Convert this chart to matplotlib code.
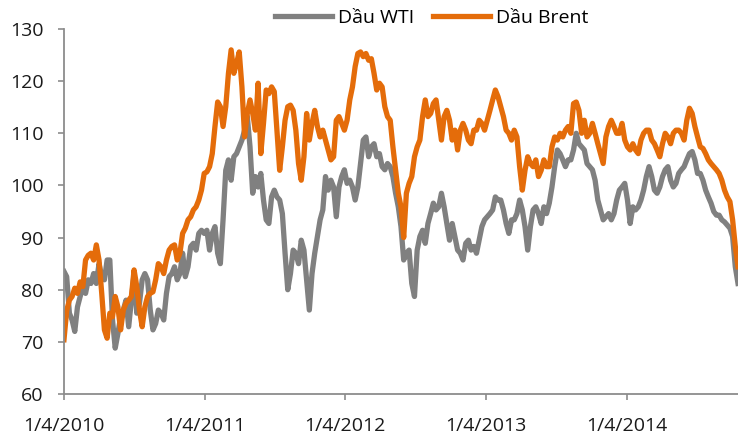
import matplotlib
matplotlib.use("Agg")
import matplotlib.pyplot as plt
import pandas as pd

# weekly readings, starting 4 Jan 2010
start_date = "2010-01-04"

wti = [
    83.5, 82.5, 75.5, 74.2, 72.0, 76.7, 78.7, 80.6, 79.3, 81.9, 81.2, 83.1, 81.2, 85.0,
    82.5, 81.9, 85.7, 85.7, 74.2, 68.8, 71.6, 74.8, 76.1, 78.0, 72.9, 78.0, 83.1, 75.5,
    77.4, 81.9, 83.1, 81.9, 76.1, 72.3, 73.5, 76.1, 75.5, 74.2, 79.3, 82.5, 83.1, 84.4,
    81.9, 83.1, 87.0, 82.5, 84.4, 88.3, 88.9, 87.6, 90.8, 91.4,
    90.8, 91.4, 87.6, 90.8, 92.1, 87.0, 85.0, 93.4, 102.9, 104.9, 101.0, 105.5, 106.1,
    107.4, 108.7, 110.6, 113.2, 107.4, 98.5, 101.7, 99.7, 102.3, 97.2, 93.4, 92.7, 97.8,
    99.1, 97.8, 97.2, 94.6, 87.0, 80.0, 83.1, 87.6, 87.0, 85.0, 89.5, 87.6, 81.9, 76.1,
    83.1, 87.0, 90.2, 93.4, 95.3, 101.7, 99.1, 101.0, 99.7, 94.0, 99.7, 101.7,
    103.0, 100.4, 101.0, 99.7, 97.2, 99.7, 104.2, 108.7, 109.3, 105.5, 107.4, 108.0,
    105.5, 106.1, 103.6, 103.0, 104.2, 103.6, 101.7, 98.5, 95.9, 92.1, 85.7, 87.0, 87.6,
    81.2, 78.7, 87.6, 90.2, 91.4, 88.9, 92.7, 94.6, 96.6, 95.3, 95.9, 98.5, 95.9, 92.7,
    89.5, 92.7, 90.2, 87.6, 87.0, 85.7, 88.9, 89.5, 87.6, 88.3, 87.0, 89.5, 92.1,
    93.4, 94.0, 94.6, 95.3, 97.8, 97.2, 97.2, 95.3, 92.7, 90.8, 93.4, 93.4, 94.6, 97.2,
    95.3, 92.1, 87.6, 92.1, 95.3, 95.9, 94.6, 92.7, 95.9, 94.6, 96.6, 99.7, 103.6, 106.8,
    106.1, 104.9, 103.6, 104.9, 104.9, 106.8, 110.0, 108.0, 107.4, 106.8, 104.2, 103.6,
    103.0, 101.0, 97.2, 95.3, 93.4, 94.0, 94.6, 93.4, 94.6, 97.2, 99.1, 99.7,
    100.4, 97.2, 92.7, 95.9, 95.3, 95.9, 97.2, 99.1, 101.7, 103.6, 101.7, 99.1, 98.5,
    99.7, 101.7, 103.0, 103.6, 101.0, 99.7, 100.4, 102.3, 103.0, 103.6, 104.9, 106.1,
    106.5, 104.9, 102.3, 102.3, 101.0, 99.1, 97.8, 96.6, 95.0, 94.3, 94.3, 93.4, 93.0,
    92.4, 91.8, 90.2, 84.4, 81.2,
]

brent = [
    70.4, 76.0, 78.0, 78.7, 80.3, 79.3, 81.5, 80.6, 85.7, 86.6, 87.0, 85.7, 88.6, 85.7,
    79.3, 72.3, 70.7, 75.5, 74.8, 78.7, 76.7, 72.3, 76.1, 77.4, 78.0, 78.7, 83.8, 80.6,
    76.1, 72.9, 76.7, 78.7, 79.3, 79.6, 81.9, 85.0, 84.4, 83.1, 85.7, 87.6, 88.3, 88.6,
    85.7, 87.0, 90.8, 91.8, 93.4, 94.0, 95.3, 95.9, 97.2, 99.1,
    102.3, 102.6, 103.6, 106.1, 111.3, 116.0, 115.1, 111.3, 115.1, 121.5, 126.0, 121.5,
    123.4, 125.6, 118.9, 109.3, 113.8, 116.4, 113.8, 110.6, 119.6, 106.1, 111.9, 118.3,
    117.6, 118.9, 118.0, 110.6, 102.9, 107.4, 112.5, 115.1, 115.4, 114.4, 110.6, 104.2,
    101.0, 105.5, 113.8, 108.7, 111.9, 114.4, 111.3, 109.3, 110.6, 108.7, 106.8, 104.9,
    105.5, 112.5, 113.2, 111.9, 110.6, 112.5, 116.4, 118.9, 122.8, 125.3, 125.6, 124.7,
    125.3, 124.0, 124.3, 121.5, 118.3, 119.6, 118.9, 115.1, 113.2, 112.5, 107.4, 102.9,
    98.5, 95.9, 90.0, 98.5, 100.4, 101.7, 105.5, 107.4, 108.7, 113.2, 116.4, 113.2,
    113.8, 115.7, 116.4, 112.5, 108.7, 113.2, 114.4, 112.5, 108.7, 110.6, 106.8, 110.6,
    111.9, 110.6, 108.7, 108.0,
    110.6, 110.6, 112.5, 111.9, 110.6, 112.5, 114.4, 116.4, 118.3, 117.0, 115.1, 113.2,
    110.6, 110.0, 108.7, 110.6, 109.3, 103.6, 99.1, 102.9, 105.5, 104.2, 103.6, 104.9,
    101.7, 102.9, 104.9, 103.6, 103.6, 107.4, 109.3, 108.7, 110.0, 109.3, 110.6, 111.3,
    110.0, 115.7, 116.0, 114.4, 110.0, 112.5, 109.3, 110.0, 111.9, 110.0, 108.0, 106.1,
    104.2, 109.3, 111.3, 112.5,
    111.3, 110.0, 110.0, 111.9, 108.7, 107.4, 106.8, 108.0, 106.8, 106.1, 108.7, 110.0,
    110.6, 110.6, 108.7, 108.0, 106.8, 105.5, 108.0, 110.0, 109.3, 108.0, 110.0, 110.6,
    110.6, 110.0, 108.7, 112.5, 114.8, 113.8, 111.3, 109.3, 107.4, 107.1, 106.1, 104.9,
    104.2, 103.6, 103.0, 102.3, 101.0, 99.1, 97.8, 96.9, 93.4, 88.3, 84.4,
]

tick_dates = ["2010-01-04", "2011-01-04", "2012-01-04", "2013-01-04", "2014-01-04"]
tick_labels = ["1/4/2010", "1/4/2011", "1/4/2012", "1/4/2013", "1/4/2014"]
series_names = ["Dầu WTI", "Dầu Brent"]

dates = pd.date_range(start_date, periods=len(wti), freq="7D")

plt.rcParams["font.family"] = ["Open Sans", "DejaVu Sans"]

fig = plt.figure(figsize=(7.38, 4.36), dpi=100)
ax = fig.add_axes([0.0867, 0.0963, 0.9133, 0.8372])

ax.plot(dates, wti, color="#808080", lw=3.8, label=series_names[0],
        solid_joinstyle="round")
ax.plot(dates, brent, color="#E46C0A", lw=3.8, label=series_names[1],
        solid_joinstyle="round")

ax.set_ylim(60, 130)
ax.set_yticks(range(60, 131, 10))
ax.set_xlim(dates[0], dates[-1])
ax.set_xticks(pd.to_datetime(tick_dates))
ax.set_xticklabels(tick_labels)

for side in ["top", "right"]:
    ax.spines[side].set_visible(False)
for side in ["left", "bottom"]:
    ax.spines[side].set_color("#8c8c8c")
    ax.spines[side].set_linewidth(1.3)

ax.tick_params(axis="both", direction="out", length=4.5, width=1.2,
               color="#8c8c8c", labelsize=14, labelcolor="#1a1a1a")
ax.tick_params(axis="x", pad=12)
ax.tick_params(axis="y", pad=10)

fig.legend(loc="upper center", bbox_to_anchor=(0.585, 1.02), ncol=2,
           frameon=False, fontsize=14, handlelength=2.9, handletextpad=0.3,
           columnspacing=1.0)

fig.savefig("out.png", dpi=100)
